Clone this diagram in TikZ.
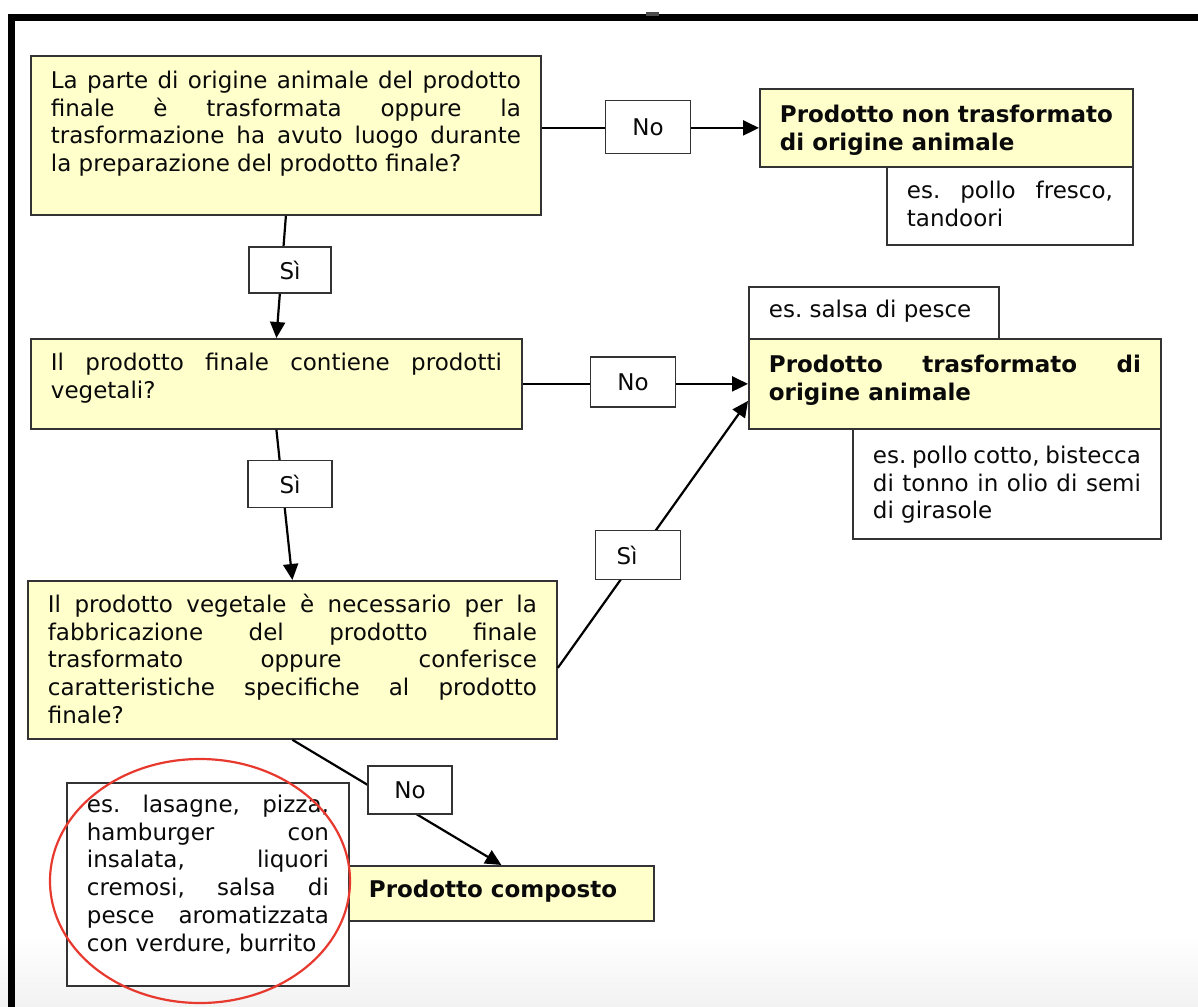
\documentclass[tikz,border=0pt]{standalone}
\usepackage{fontspec}
\setmainfont{DejaVu Sans}
\usetikzlibrary{arrows.meta,calc}
\definecolor{ycol}{HTML}{FFFFCC}
\definecolor{bcol}{HTML}{333333}
\definecolor{tcol}{HTML}{0A0A0A}
\definecolor{rcol}{HTML}{E8392F}
\frenchspacing
\newcommand\jline[1]{\hbox to \linewidth{\strut\spaceskip=.3em plus 1fil minus .12em\relax #1}}
\newcommand\lline[1]{\hbox to \linewidth{\strut #1\hfil}}
\newcommand\boxtext[4]{\parbox[c][#2][t]{#1}{\vspace*{#3}#4}}
\begin{document}
\begin{tikzpicture}[x=1pt,y=-1pt,
  wbox/.style={draw=bcol, line width=1.8pt, fill=white, inner xsep=20pt, inner ysep=0pt, anchor=north west, text=tcol, font=\fontsize{23}{27.8}\selectfont},
  ybox/.style={wbox, fill=ycol},
  lbl/.style={draw=bcol, line width=1.8pt, fill=white, inner sep=0pt, text=tcol, font=\fontsize{23}{27.8}\selectfont},
  conn/.style={line width=2.2pt, black},
  arr/.style={conn, -{Triangle[length=16pt,width=15pt]}}]
\useasboundingbox (0,0) rectangle (1198,1006);
\clip (0,0) rectangle (1198,1006);
\shade[top color=white, bottom color=black!5] (0,935) rectangle (1198,1006);
% frame
\draw[line width=7pt, line join=miter] (11.5,1020) -- (11.5,18) -- (1210,18);
\fill[black!70] (646,12) rectangle (659,16);

% boxes
\node[ybox] (q1) at (30,55) {\boxtext{470pt}{159pt}{13pt}{%
 \jline{La parte di origine animale del prodotto}%
 \jline{finale è trasformata oppure la}%
 \jline{trasformazione ha avuto luogo durante}%
 \lline{la preparazione del prodotto finale?}}};
\node[ybox] (q2) at (30,338) {\boxtext{451pt}{90pt}{12pt}{%
 \jline{Il prodotto finale contiene prodotti}%
 \lline{vegetali?}}};
\node[ybox] (q3) at (27,580) {\boxtext{489pt}{158pt}{12pt}{%
 \jline{Il prodotto vegetale è necessario per la}%
 \jline{fabbricazione del prodotto finale}%
 \jline{trasformato oppure conferisce}%
 \jline{caratteristiche specifiche al prodotto}%
 \lline{finale?}}};

\node[wbox] (e2) at (886,166) {\boxtext{206pt}{78pt}{12pt}{%
 \jline{es. pollo fresco,}%
 \lline{tandoori}}};
\node[ybox] (b2) at (759,88) {\boxtext{333pt}{78pt}{14pt}{\bfseries
 \lline{Prodotto non trasformato}%
 \lline{di origine animale}}};

\node[wbox] (s4) at (748,286) {\boxtext{210pt}{52pt}{11pt}{%
 \lline{es. salsa di pesce}}};
\node[wbox] (e4) at (852,428) {\boxtext{268pt}{110pt}{15pt}{%
 \jline{es. pollo cotto, bistecca}%
 \jline{di tonno in olio di semi}%
 \lline{di girasole}}};
\node[ybox] (b4) at (748,338) {\boxtext{372pt}{90pt}{14pt}{\bfseries
 \jline{Prodotto trasformato di}%
 \lline{origine animale}}};

\node[ybox] (b5) at (348,865) {\boxtext{265pt}{55pt}{12pt}{\bfseries
 \lline{Prodotto composto}}};
\node[wbox] (e5) at (66,782) {\boxtext{242pt}{203pt}{10pt}{%
 \jline{es. lasagne, pizza,}%
 \jline{hamburger con}%
 \jline{insalata, liquori}%
 \jline{cremosi, salsa di}%
 \jline{pesce aromatizzata}%
 \lline{con verdure, burrito}}};

% connectors
\draw[arr] (q1.east |- b2.west) -- (b2.west);
\draw[arr] (q1.south) -- (q2.north);
\draw[arr] (q2.east) -- (b4.west);
\draw[arr] (q2.south) -- (q3.north);
\draw[arr] ([yshift=-8pt]q3.east) -- ([yshift=-17pt]b4.west);
\draw[arr] (q3.south) -- (b5.north);

% labels
\node[lbl, minimum width=85pt, minimum height=53pt] (l1) at (648,127) {No};
\node[lbl, minimum width=85pt, minimum height=50pt] (l2) at (633,382) {No};
\node[lbl, minimum width=82pt, minimum height=46pt] (l3) at (290,270) {Sì};
\node[lbl, minimum width=84pt, minimum height=47pt] (l4) at (290,484) {Sì};
\node[lbl, minimum width=85pt, minimum height=49pt] (l5) at (638,555) {\hbox to 85pt{\hspace{21pt}Sì\hfil}};
\node[lbl, minimum width=84pt, minimum height=48pt] (l6) at (410,790) {No};

% highlight
\draw[rcol, line width=2.2pt] (200,881) ellipse [x radius=150pt, y radius=122pt];
\end{tikzpicture}
\end{document}
